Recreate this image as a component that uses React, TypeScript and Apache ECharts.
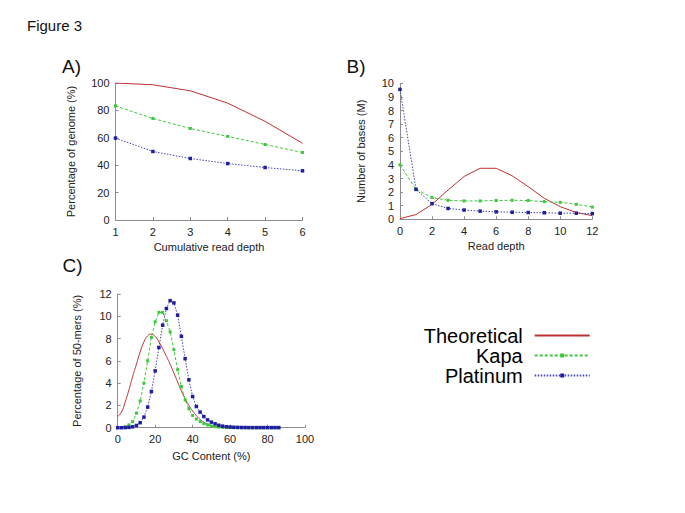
import React, { useEffect, useRef } from "react";
import * as echarts from "echarts";

const FONT = '"Liberation Sans", Arial, Helvetica, sans-serif';

// Panel A: cumulative read depth
const depthA = [1, 2, 3, 4, 5, 6];
const theoA = [100, 98.7, 94.3, 85.3, 72, 56];
const kapaA = [83.3, 74.1, 66.8, 61, 55.1, 49.3];
const platA = [59.8, 50, 44.9, 41.2, 38.3, 35.9];

// Panel B: read depth
const depthB = [0, 1, 2, 3, 4, 5, 6, 7, 8, 9, 10, 11, 12];
const theoB = [0.05, 0.35, 1.1, 2.15, 3.15, 3.75, 3.75, 3.2, 2.4, 1.55, 0.93, 0.5, 0.27];
const kapaB = [4.0, 2.2, 1.6, 1.4, 1.35, 1.35, 1.38, 1.4, 1.38, 1.3, 1.25, 1.1, 0.9];
const platB = [9.55, 2.2, 1.15, 0.8, 0.68, 0.6, 0.55, 0.52, 0.5, 0.48, 0.45, 0.45, 0.42];

// Panel C: GC content
const gcTheo = [0, 2, 4, 6, 8, 10, 12, 14, 16, 18, 20, 22, 24, 26, 28, 30, 32, 34, 36, 38, 40, 42, 44, 46, 48, 50, 52, 54, 56, 58, 60];
const theoC = [1.0, 1.4, 2.3, 3.4, 4.6, 5.7, 6.8, 7.7, 8.25, 8.4, 8.2, 7.7, 7.1, 6.4, 5.7, 4.9, 4.1, 3.3, 2.6, 2.0, 1.5, 1.1, 0.75, 0.5, 0.33, 0.2, 0.12, 0.07, 0.04, 0.02, 0.01];
const gcMeas = [0, 2, 4, 6, 8, 10, 12, 14, 16, 18, 20, 22, 24, 26, 28, 30, 32, 34, 36, 38, 40, 42, 44, 46, 48, 50, 52, 54, 56, 58, 60, 62, 64, 66, 68, 70, 72, 74, 76, 78, 80, 82, 84, 86];
const kapaC = [0, 0.02, 0.08, 0.25, 0.55, 1.3, 2.4, 4.0, 6.0, 8.1, 9.5, 10.35, 10.35, 9.6, 8.6, 7.0, 5.2, 3.7, 2.5, 1.7, 1.1, 0.78, 0.55, 0.38, 0.25, 0.15, 0.09, 0.05, 0.03, 0.02, 0.01, 0, 0, 0, 0, 0, 0, 0, 0, 0, 0, 0, 0, 0];
const platC = [0, 0, 0.01, 0.03, 0.08, 0.2, 0.45, 0.95, 1.85, 3.25, 5.1, 7.2, 9.2, 10.7, 11.4, 11.2, 10.1, 8.2, 6.2, 4.3, 2.8, 1.9, 1.4, 1.0, 0.7, 0.5, 0.35, 0.22, 0.14, 0.09, 0.06, 0.04, 0.03, 0.02, 0.02, 0.01, 0.01, 0.01, 0.01, 0.01, 0.01, 0.01, 0.01, 0.01];

const seriesNames = ["Theoretical", "Kapa", "Platinum"];

const RED = "#c03232";
const GREEN = "#3cc83c";
const BLUE_LINE = "#4646b4";
const BLUE_MARK = "#1e1ea0";
const AXIS = "#8c8c8c";

const zip = (xs: number[], ys: number[]) => xs.map((x, i) => [x, ys[i]]);

function axis(grid: number, min: number, max: number, interval: number, name: string, gap: number) {
  return {
    type: "value",
    gridIndex: grid,
    min,
    max,
    interval,
    name,
    nameLocation: "middle",
    nameGap: gap,
    nameTextStyle: { fontFamily: FONT, fontSize: 11, color: "#222" },
    axisLine: { show: true, onZero: false, lineStyle: { color: AXIS, width: 1 } },
    axisTick: { show: true, inside: true, length: 3, lineStyle: { color: AXIS } },
    axisLabel: { fontFamily: FONT, fontSize: 11, color: "#222", margin: 6 },
    splitLine: { show: false },
  };
}

function theoSeries(idx: number, data: number[][], smooth: boolean) {
  return {
    type: "line",
    name: seriesNames[0],
    xAxisIndex: idx,
    yAxisIndex: idx,
    data,
    symbol: "none",
    smooth,
    lineStyle: { color: RED, width: 1 },
    itemStyle: { color: RED },
    z: 2,
  };
}

function kapaSeries(idx: number, data: number[][]) {
  return {
    type: "line",
    name: seriesNames[1],
    xAxisIndex: idx,
    yAxisIndex: idx,
    data,
    symbol: "rect",
    symbolSize: 3,
    lineStyle: { color: GREEN, width: 1, type: [3, 2] },
    itemStyle: { color: GREEN },
    z: 3,
  };
}

function platSeries(idx: number, data: number[][]) {
  return {
    type: "line",
    name: seriesNames[2],
    xAxisIndex: idx,
    yAxisIndex: idx,
    data,
    symbol: "rect",
    symbolSize: 3.5,
    lineStyle: { color: BLUE_LINE, width: 1, type: [1.5, 1.5] },
    itemStyle: { color: BLUE_MARK },
    z: 4,
  };
}

function label(text: string, left: number, cy: number, size: number, family = FONT) {
  return {
    type: "text",
    left,
    top: cy - size / 2,
    style: { text, fontFamily: family, fontSize: size, fill: "#111" },
  };
}

export default function App() {
  const ref = useRef<HTMLDivElement>(null);

  useEffect(() => {
    if (!ref.current) return;
    const chart = echarts.init(ref.current, undefined, { renderer: "svg" });
    const option = {
      animation: false,
      backgroundColor: "#ffffff",
      grid: [
        { left: 115.5, top: 83, width: 187, height: 137 },
        { left: 400, top: 83.3, width: 192.3, height: 136 },
        { left: 117.7, top: 294, width: 187.3, height: 133.7 },
      ],
      xAxis: [
        axis(0, 1, 6, 1, "Cumulative read depth", 21),
        axis(1, 0, 12, 2, "Read depth", 21),
        axis(2, 0, 100, 20, "GC Content (%)", 23),
      ],
      yAxis: [
        axis(0, 0, 100, 20, "Percentage of genome (%)", 39),
        axis(1, 0, 10, 1, "Number of bases (M)", 34),
        axis(2, 0, 12, 2, "Percentage of 50-mers (%)", 35.5),
      ],
      legend: {
        data: [
          { name: seriesNames[0], itemStyle: { opacity: 0 } },
          { name: seriesNames[1] },
          { name: seriesNames[2] },
        ],
        orient: "vertical",
        left: 417.7,
        top: 320.5,
        itemWidth: 55,
        itemHeight: 5,
        itemGap: 0,
        align: "right",
        selectedMode: false,
        formatter: (name: string) => `{a|${name}}`,
        textStyle: {
          rich: {
            a: {
              width: 100,
              align: "right",
              fontSize: 20,
              fontFamily: FONT,
              color: "#000",
              lineHeight: 21.5,
              padding: [0, 7, 0, 0],
            },
          },
        },
      },
      graphic: [
        label("Figure 3", 27, 25, 15),
        label("A)", 62, 66.5, 19),
        label("B)", 346.5, 66, 19),
        label("C)", 62.5, 265.5, 19),
      ],
      series: [
        theoSeries(0, zip(depthA, theoA), false),
        kapaSeries(0, zip(depthA, kapaA)),
        platSeries(0, zip(depthA, platA)),
        theoSeries(1, zip(depthB, theoB), false),
        kapaSeries(1, zip(depthB, kapaB)),
        platSeries(1, zip(depthB, platB)),
        theoSeries(2, zip(gcTheo, theoC), true),
        kapaSeries(2, zip(gcMeas, kapaC)),
        platSeries(2, zip(gcMeas, platC)),
      ],
    };
    chart.setOption(option as any);
    return () => chart.dispose();
  }, []);

  return (
    <div
      ref={ref}
      style={{ position: "fixed", left: 0, top: 0, width: 685, height: 513, background: "#fff" }}
    />
  );
}
